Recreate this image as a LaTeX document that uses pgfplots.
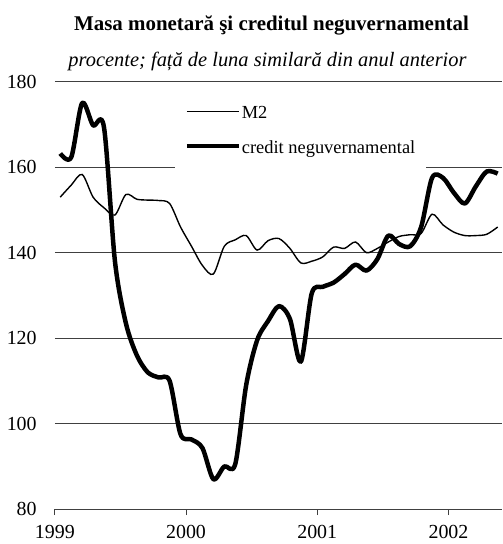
\documentclass[border=0pt]{standalone}
\usepackage{pgfplots}
\pgfplotsset{compat=1.18}
\usepackage{pgfplotstable}
\usepackage{fontspec}
\setmainfont{Liberation Serif}
\pgfplotstableread{
m M2 credit
0 153.0 163.2
1 155.8 162.3
2 158.3 175.0
3 153.0 169.8
4 150.5 169.3
5 148.8 138.0
6 153.6 123.5
7 152.5 116.0
8 152.3 112.0
9 152.2 110.8
10 151.5 110.0
11 146.0 97.5
12 141.5 96.3
13 137.0 94.3
14 135.0 87.0
15 141.5 90.0
16 143.0 90.5
17 144.0 109.0
18 140.6 119.5
19 142.8 124.0
20 143.3 127.5
21 141.0 124.5
22 137.6 114.5
23 138.0 130.5
24 139.0 132.0
25 141.3 133.0
26 141.0 135.0
27 142.5 137.2
28 140.0 135.8
29 141.0 138.5
30 142.5 144.0
31 143.8 142.0
32 144.2 141.5
33 144.5 146.0
34 149.0 157.5
35 146.5 157.5
36 144.8 154.0
37 144.0 151.5
38 144.0 155.5
39 144.3 159.0
40 146.0 158.5
}\data
\begin{document}
\begin{tikzpicture}
\begin{axis}[
  scale only axis, width=449pt, height=429pt,
  xmin=-0.5, xmax=40.41, ymin=80, ymax=180,
  xtick={-0.5,11.5,23.5,35.5}, xticklabels={1999,2000,2001,2002},
  ytick={80,100,120,140,160,180},
  axis x line*=bottom, axis y line*=left,
  y axis line style={draw=none},
  x axis line style={draw=black!75, line width=1pt, -},
  ytick style={draw=none},
  xtick style={draw=black!75, line width=1pt},
  tick align=outside, major tick length=6pt,
  ymajorgrids, grid style={draw=black!75, line width=0.8pt},
  /pgf/number format/assume math mode=true,
  ticklabel style={font=\fontsize{20}{24}\selectfont},
  yticklabel style={anchor=east, inner sep=0pt, xshift=-12pt},
  xticklabel style={anchor=north, inner sep=0pt, text depth=0pt, yshift=-10pt},
  legend style={at={(rel axis cs:0.2673,0.9697)}, anchor=north west,
    draw=none, fill=white, font=\fontsize{18.5}{22}\selectfont,
    inner xsep=10pt, inner ysep=10pt, row sep=16pt,
    nodes={inner sep=1pt, text height=13pt, text depth=4pt}},
  legend cell align=left,
  legend image code/.code={\draw[#1] (0pt,3pt) -- (52pt,3pt);},
]
\addplot[black, line width=1.4pt, smooth] table[x=m, y=M2] {\data};
\addlegendentry{M2}
\addplot[black, line width=4.5pt, smooth, line join=round] table[x=m, y=credit] {\data};
\addlegendentry{credit neguvernamental}
\end{axis}
\node[anchor=base, font=\bfseries\fontsize{21}{25}\selectfont] at (217.5pt,480.5pt) {Masa monetară şi creditul neguvernamental};
\node[anchor=base, font=\itshape\fontsize{20.5}{24}\selectfont] at (213.5pt,444.5pt) {procente; față de luna similară din anul anterior};
\pgfresetboundingbox
\path (-55pt,-35pt) rectangle (449pt,511pt);
\end{tikzpicture}
\end{document}
